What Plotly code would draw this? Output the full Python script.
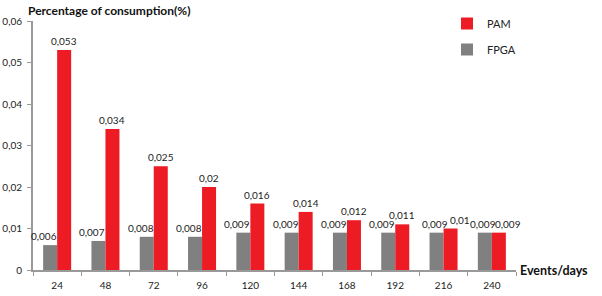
import plotly.graph_objects as go

categories = ["24", "48", "72", "96", "120", "144", "168", "192", "216", "240"]
fpga = [0.006, 0.007, 0.008, 0.008, 0.009, 0.009, 0.009, 0.009, 0.009, 0.009]
pam = [0.053, 0.034, 0.025, 0.02, 0.016, 0.014, 0.012, 0.011, 0.01, 0.009]

def fmt(v):
    return ("%g" % v).replace(".", ",")

FONT = "Lato"
TXT = "#222222"
W, H = 602, 296
fig = go.Figure()
fig.add_trace(go.Bar(
    x=categories, y=fpga, name="FPGA", legendrank=2, legendgroup="fpga",
    marker=dict(color="#808080", line=dict(width=0)),
))
fig.add_trace(go.Bar(
    x=categories, y=pam, name="PAM", legendrank=1, legendgroup="pam",
    marker=dict(color="#ED1C24", line=dict(width=0)),
))

# value labels drawn on top of both bar series (Excel-style placement);
# on a category axis, annotation x is the category index
annotations = []
for i, (g, p) in enumerate(zip(fpga, pam)):
    close = abs(g - p) < 0.0015
    annotations.append(dict(x=i, y=g, xref="x", yref="y", text=fmt(g), showarrow=False,
                            xanchor="center", yanchor="bottom", xshift=-9 if close else -13, yshift=1,
                            font=dict(size=10, family=FONT, color=TXT)))
    annotations.append(dict(x=i, y=p, xref="x", yref="y", text=fmt(p), showarrow=False,
                            xanchor="center", yanchor="bottom", xshift=16 if close else 7, yshift=1,
                            font=dict(size=10, family=FONT, color=TXT)))

annotations.append(dict(text="<b>Events/days</b>", xref="paper", yref="paper",
                        x=1.004, y=0.0, xanchor="left", yanchor="middle", showarrow=False,
                        font=dict(size=12.5, family=FONT, color="#111111")))

fig.update_layout(
    width=W, height=H,
    margin=dict(l=33, r=86, t=21, b=26, autoexpand=False),
    paper_bgcolor="white", plot_bgcolor="white",
    barmode="group", bargap=0.42, bargroupgap=0,
    separators=",.",
    font=dict(family=FONT, size=10, color=TXT),
    title=dict(text="<b>Percentage of consumption(%)</b>", xref="container", yref="container",
               x=28 / W, y=1 - 11 / H, xanchor="left", yanchor="middle",
               font=dict(size=12, family=FONT, color="#111111")),
    showlegend=True,
    legend=dict(x=447 / W, y=1 - 9 / H, xref="container", yref="container", xanchor="left", yanchor="top",
                font=dict(size=11, family=FONT, color=TXT),
                tracegroupgap=7, bgcolor="rgba(0,0,0,0)"),
    xaxis=dict(type="category", range=[-0.5, len(categories) - 0.5], showline=True,
               linecolor="#999999", linewidth=2, ticks="outside",
               tickson="boundaries", ticklen=4, tickcolor="#999999", ticklabelstandoff=5,
               showgrid=False, tickfont=dict(size=10, family=FONT, color=TXT)),
    yaxis=dict(range=[0, 0.06], dtick=0.01, showline=True, linecolor="#999999", linewidth=2,
               ticks="outside", ticklen=4, tickcolor="#999999", showgrid=False, zeroline=False,
               ticklabelstandoff=3, tickfont=dict(size=10, family=FONT, color=TXT)),
    annotations=annotations,
)

fig.write_html("out.html", config={"displayModeBar": False},
               post_script="document.body.style.margin='0';")
